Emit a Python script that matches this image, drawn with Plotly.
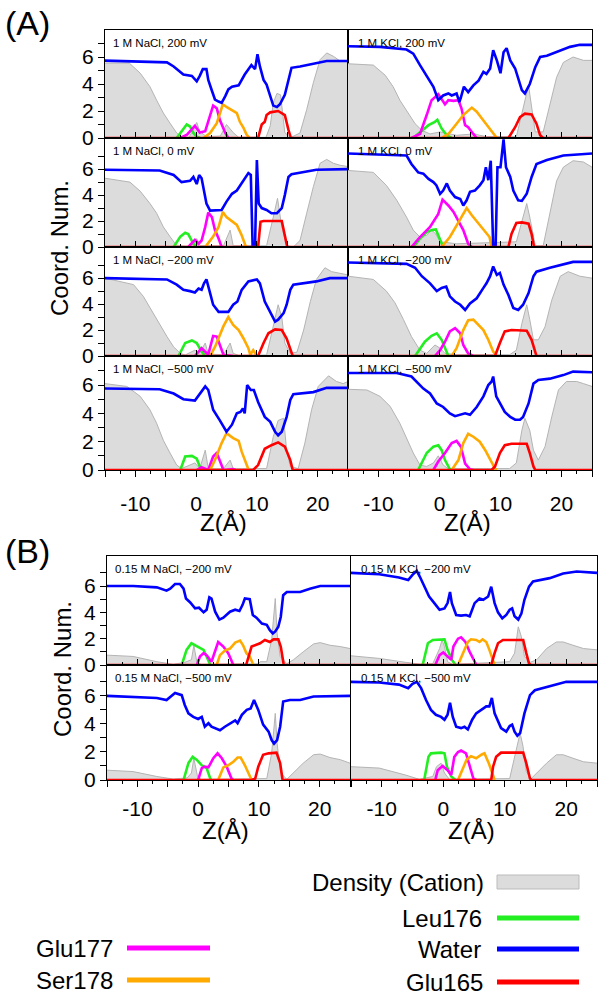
import plotly.graph_objects as go

# ---------------- data: (Z in Å, value) pairs ----------------
# Panel A, row 1 left: 1 M NaCl, 200 mV
A_NA200_D = [(-15,5.55),(-11,5.55),(-9.2,4.8),(-7.6,3.8),(-6.5,2.8),(-5.4,1.85),(-4.3,1.1),(-3.2,0.37),(-2.4,0.07),(-1.2,0.05),(-0.45,0.6),(0.1,1.15),(0.6,0.5),(1.7,0.1),(4.0,0.15),(5.0,1.0),(6.1,0.4),(7,0.05),(11.5,0.05),(12.2,0.9),(12.7,2.6),(13.3,3.3),(13.9,3.2),(14.6,0.4),(15.5,0.02),(17.1,0.37),(18.2,2.1),(19.3,4.1),(20.4,5.8),(21.5,6.3),(22.6,6.05),(23.7,5.7),(25,5.7)]
A_NA200_LEU = [(-3.2,0),(-2.4,0.5),(-1.55,1.0),(-1.0,0.85),(-0.45,0.37),(0.1,0.1),(0.6,0)]
A_NA200_GLU177 = [(-2.6,0),(-1.5,0.25),(-0.2,0.9),(0.6,0.4),(1.5,0.5),(2.3,1.6),(2.8,2.4),(3.4,2.2),(3.9,1.35),(4.8,0.37),(5.3,0)]
A_NA200_SER = [(1.2,0),(2.3,0.37),(3.4,1.1),(4.4,2.5),(5.0,2.3),(6.1,2.0),(6.7,1.85),(7.2,1.2),(7.8,0.75),(8.3,0.25),(8.8,0)]
A_NA200_W = [(-15,5.73),(-4.8,5.6),(-3.7,5.3),(-2.1,4.7),(-0.7,4.6),(-0.2,4.3),(0.1,4.2),(0.6,4.6),(1.1,5.1),(1.7,5.1),(2.0,4.3),(2.6,3.5),(3.1,2.85),(3.7,2.7),(4.2,2.6),(4.8,3.1),(5.3,3.6),(5.9,3.8),(7.0,3.9),(8.0,4.7),(9.1,5.4),(9.7,5.1),(10.1,6.2),(10.5,5.3),(11.1,4.3),(11.6,3.95),(12.2,3.1),(12.7,2.4),(13.3,2.3),(13.8,2.5),(14.6,3.2),(15.2,4.3),(15.7,5.2),(17.1,5.3),(19.8,5.55),(21.5,5.7),(25,5.7)]
A_NA200_GLU165 = [(-15,0),(10.2,0),(10.8,1.0),(11.3,1.2),(11.6,1.7),(12.2,1.9),(13.5,2.0),(14.6,1.7),(15.2,0.6),(15.6,0),(25,0)]

# Panel A, row 2 left: 1 M NaCl, 0 mV
A_NA0_D = [(-15,5.3),(-10.9,5.0),(-9.2,4.3),(-7.6,3.35),(-6.5,2.6),(-5.4,1.55),(-4.3,0.8),(-3.2,0.1),(-1.2,0.05),(-0.45,0.25),(0.1,0.65),(0.6,0.1),(4.5,0.1),(5.6,1.3),(6.1,0.1),(11.6,0.1),(12.7,2.3),(13.4,3.75),(14.1,1.55),(14.9,0.1),(16.0,0),(17.1,0.5),(18.2,2.6),(19.3,4.65),(20.4,6.45),(21.5,6.75),(22.6,6.45),(23.7,6.3),(25,6.2)]
A_NA0_LEU = [(-3.7,0),(-2.6,0.8),(-1.8,1.1),(-1.3,1.0),(-0.45,0.25),(0.1,0)]
A_NA0_GLU177 = [(-1.3,0),(-0.2,0.55),(0.4,0.25),(0.9,0.5),(1.5,1.55),(2.0,2.65),(2.6,2.3),(3.1,1.3),(3.7,0.65),(4.2,0)]
A_NA0_SER = [(1.5,0),(2.8,0.8),(3.7,1.55),(4.4,2.7),(5.0,2.3),(5.9,1.95),(6.7,1.7),(7.5,0.9),(8.2,0)]
A_NA0_W = [(-15,5.95),(-6,5.9),(-3.7,5.55),(-2.4,5.0),(-1.0,5.1),(-0.45,5.4),(0.1,4.85),(0.5,5.55),(0.9,5.3),(1.3,4.25),(1.7,3.35),(2.3,2.8),(3.4,2.85),(4.2,2.85),(5.0,3.5),(5.9,4.1),(6.7,4.35),(7.5,4.9),(8.6,5.7),(9.0,5.55),(9.3,0.05),(9.7,0.05),(10.0,6.7),(10.3,3.35),(10.8,3.0),(11.6,2.85),(12.4,2.6),(13.3,2.6),(14.1,3.0),(14.6,4.0),(15.2,5.4),(15.7,5.6),(19.8,5.95),(25,6.0)]
A_NA0_GLU165 = [(-15,0),(10.2,0),(10.6,1.95),(11.1,2.0),(14.1,2.0),(14.6,1.0),(15.0,0),(25,0)]

# Panel A, row 3 left: 1 M NaCl, -200 mV
A_NAM200_D = [(-15,6.0),(-10.3,5.5),(-8.7,4.6),(-7.6,3.7),(-6.5,2.9),(-4.8,1.5),(-3.7,0.7),(-2.6,0.2),(-1.8,0.08),(-0.2,0.45),(0.6,0.25),(1.5,1.0),(2.0,0.15),(4.5,0.1),(5.6,1.0),(6.1,0.2),(7,0.05),(11.6,0.08),(12.7,2.3),(13.5,3.95),(14.1,3.0),(14.6,1.0),(15.5,0.2),(16.6,0.3),(17.7,2.0),(18.8,4.2),(19.8,5.9),(21.2,6.8),(22.3,6.5),(23.7,6.4),(25,6.25)]
A_NAM200_LEU = [(-2.9,0),(-1.8,1.0),(-0.7,1.2),(0.1,1.0),(0.9,0.35),(1.5,0)]
A_NAM200_GLU177 = [(-0.2,0),(0.9,0.6),(2.0,0.1),(2.8,1.55),(3.4,1.5),(3.9,0.85),(4.5,0.1),(6.1,0)]
A_NAM200_SER = [(2.3,0),(3.1,0.7),(4.5,2.3),(5.3,3.0),(6.1,2.4),(7.0,2.0),(7.8,1.35),(8.6,0.6),(8.9,0.1),(9.4,0.45),(10.0,0)]
A_NAM200_W = [(-15,6.0),(-4.8,5.9),(-3.2,5.5),(-2.1,5.1),(-1.0,5.0),(-0.2,4.9),(0.4,5.2),(0.9,5.1),(1.3,5.6),(1.7,5.9),(2.3,4.85),(2.8,3.95),(3.7,3.4),(4.5,3.4),(5.3,3.4),(6.1,3.95),(6.8,4.2),(7.5,5.1),(8.6,5.75),(10.0,5.9),(10.5,5.6),(11.3,4.2),(12.2,3.4),(13.0,2.65),(13.5,2.8),(14.4,3.3),(14.9,3.95),(15.5,5.1),(16.0,5.5),(19.8,5.75),(22.0,6.0),(25,6.0)]
A_NAM200_GLU165 = [(-15,0),(10.2,0),(11.1,1.0),(11.9,1.75),(13.0,2.05),(14.1,2.0),(14.9,1.35),(15.5,0.45),(15.9,0),(25,0)]

# Panel A, row 4 left: 1 M NaCl, -500 mV
A_NAM500_D = [(-15,6.1),(-11.4,5.9),(-9.2,5.2),(-7.6,4.25),(-6.5,3.3),(-5.4,2.1),(-4.3,1.2),(-3.2,0.35),(-2.4,0.1),(-0.2,0.5),(0.6,0.1),(1.5,1.4),(2.0,0.1),(4.5,0.1),(5.6,0.7),(6.1,0.1),(11.6,0.1),(12.7,2.35),(13.5,3.5),(14.4,3.65),(14.9,1.4),(15.5,0.25),(16.8,0.1),(17.9,1.9),(19.0,4.25),(20.1,5.9),(21.8,6.65),(23.1,6.25),(24.2,6.1),(25,6.25)]
A_NAM500_LEU = [(-2.6,0),(-1.8,0.95),(-0.7,1.0),(0.1,0.8),(0.6,0.25),(1.2,0)]
A_NAM500_GLU177 = [(0.1,0),(0.9,0.2),(2.0,0),(2.8,0.95),(3.4,1.2),(4.2,0.35),(4.5,0),(6.1,0.07),(6.5,0)]
A_NAM500_SER = [(2.3,0),(3.1,0.7),(4.2,1.9),(5.0,2.6),(6.1,2.25),(7.0,2.05),(7.5,1.3),(8.0,0.7),(8.6,0.05),(8.8,0)]
A_NAM500_W = [(-15,5.75),(-6,5.7),(-3.7,5.4),(-2.1,5.0),(-0.2,4.9),(0.6,5.4),(1.5,5.9),(2.0,5.65),(2.8,4.25),(3.9,3.5),(5.0,2.7),(5.9,3.2),(6.7,4.0),(7.3,4.1),(7.7,4.35),(8.0,4.0),(8.4,6.0),(9.0,5.65),(9.5,5.65),(10.2,4.8),(11.3,3.75),(12.2,3.4),(13.0,2.7),(13.5,2.45),(14.1,2.7),(14.9,3.75),(15.5,4.95),(16.0,5.35),(19.3,5.5),(21.5,5.8),(25,5.8)]
A_NAM500_GLU165 = [(-15,0),(9.4,0),(10.2,0.35),(11.3,1.5),(12.4,1.75),(13.5,1.95),(14.6,1.65),(15.5,0.7),(15.9,0),(25,0)]

# Panel A, row 1 right: 1 M KCl, 200 mV
A_K200_D = [(-15,5.5),(-10.85,5.4),(-8.9,4.65),(-7.6,3.8),(-6.5,2.8),(-5.1,1.8),(-4.0,1.06),(-2.9,0.57),(-1.55,0.3),(0.1,0.45),(2.8,0.2),(5.55,0.3),(7.7,0.1),(12.6,0.1),(13.7,2.3),(14.6,3.9),(15.1,2.3),(15.7,0.45),(17.0,0.45),(18.1,2.55),(19.2,4.5),(20.3,5.6),(21.9,6.0),(23.6,5.75),(25,5.75)]
A_K200_LEU = [(-4.3,0),(-2.9,0.57),(-1.8,0.95),(-0.75,1.2),(-0.35,1.35),(0.35,0.7),(1.2,0.2),(2.0,0)]
A_K200_GLU177 = [(-4.6,0),(-3.2,0.3),(-2.1,1.7),(-1.3,2.8),(-0.2,3.25),(0.35,2.9),(0.9,2.5),(1.45,2.8),(2.3,2.75),(3.1,2.8),(3.6,2.2),(4.2,0.95),(4.7,0.8),(5.55,0.3),(6.1,0)]
A_K200_SER = [(0.35,0),(1.45,0.3),(2.8,1.06),(3.9,1.7),(5.3,2.25),(6.1,1.95),(7.2,1.3),(8.0,0.8),(8.8,0.3),(9.4,0)]
A_K200_W = [(-15,6.8),(-9.75,6.75),(-5.4,6.55),(-4.3,6.25),(-3.2,5.4),(-1.8,4.4),(-1.0,3.8),(-0.2,2.8),(0.6,3.15),(1.45,3.3),(2.0,3.15),(2.8,3.3),(3.25,2.65),(3.5,3.0),(4.0,3.8),(4.7,3.4),(5.55,3.9),(6.4,4.25),(7.2,4.9),(7.7,4.75),(8.3,5.15),(8.8,6.5),(9.4,5.75),(10.0,4.8),(10.5,6.35),(11.0,6.65),(11.6,5.75),(12.4,5.15),(12.9,4.4),(13.5,3.55),(14.0,3.3),(14.8,4.0),(15.7,5.25),(16.5,6.0),(17.6,6.1),(19.2,6.35),(21.4,6.75),(23.0,6.9),(25,6.9)]
A_K200_GLU165 = [(-15,0),(11.3,0),(12.4,0.8),(13.2,1.55),(14.0,1.8),(15.1,1.75),(15.9,1.06),(16.5,0.2),(17.0,0),(25,0)]

# Panel A, row 2 right: 1 M KCl, 0 mV
A_K0_D = [(-15,5.9),(-10.85,5.75),(-8.7,4.75),(-7.0,3.6),(-5.4,2.3),(-4.3,1.3),(-3.2,0.77),(-2.1,0.9),(-1.3,1.3),(-0.6,1.0),(0.1,0.4),(2.8,0.25),(12.6,0.4),(13.7,2.3),(14.3,3.35),(14.8,2.3),(15.7,0.1),(17.0,0.1),(18.1,2.55),(19.2,5.1),(20.3,6.15),(21.9,6.65),(23.6,6.55),(25,6.15)]
A_K0_LEU = [(-4.3,0),(-3.2,0.65),(-2.1,1.15),(-1.3,1.3),(-0.6,1.35),(0.1,0.5),(0.6,0)]
A_K0_GLU177 = [(-4.6,0),(-3.2,0.77),(-1.55,1.55),(-0.2,2.55),(0.5,3.65),(1.45,3.2),(2.3,2.7),(3.1,2.05),(3.9,1.3),(4.7,0.25),(5.3,0)]
A_K0_SER = [(0.35,0),(1.7,0.77),(3.1,1.9),(4.45,3.0),(5.3,2.45),(6.4,1.8),(7.4,1.3),(8.2,0.77),(8.55,0)]
A_K0_W = [(-15,7.2),(-5.4,7.05),(-4.6,6.4),(-3.5,5.75),(-2.65,5.65),(-1.8,5.25),(-1.0,5.0),(-0.5,4.75),(0.1,4.1),(0.6,4.35),(1.2,4.9),(1.7,4.35),(2.55,3.85),(3.4,3.7),(3.9,3.2),(4.45,3.6),(5.0,4.25),(5.8,4.35),(6.6,4.75),(7.2,5.15),(7.6,6.15),(8.0,5.15),(8.4,6.65),(8.8,0),(9.2,0),(9.5,6.15),(10.0,6.15),(10.5,8.3),(10.9,6.15),(11.6,5.4),(12.1,4.35),(12.9,3.6),(13.5,3.55),(14.3,4.1),(15.1,5.4),(15.9,6.4),(17.6,6.7),(20.3,7.05),(25,7.2)]
A_K0_GLU165 = [(-15,0),(11.3,0),(11.8,1.0),(12.6,1.85),(13.5,1.9),(14.6,1.8),(15.1,1.0),(15.5,0),(25,0)]

# Panel A, row 3 right: 1 M KCl, -200 mV
A_KM200_D = [(-15,6.15),(-10.85,5.9),(-8.7,5.0),(-7.3,4.1),(-5.9,2.8),(-4.6,1.5),(-3.2,0.45),(-2.1,0.2),(-0.75,0.85),(0.1,0.6),(0.9,0.2),(2.8,0.1),(11.5,0.1),(12.6,0.45),(13.5,2.5),(14.3,3.95),(14.8,2.8),(15.4,1.25),(16.2,1.25),(17.3,2.25),(18.4,4.3),(19.8,6.15),(21.1,6.5),(23.0,6.15),(25,6.0)]
A_KM200_LEU = [(-4.0,0),(-2.4,1.1),(-1.3,1.55),(-0.45,1.75),(0.35,1.25),(0.9,0.6),(1.45,0)]
A_KM200_GLU177 = [(-0.75,0),(0.1,0.45),(0.9,1.1),(1.7,1.9),(2.55,2.15),(3.4,1.75),(3.9,0.85),(4.7,0.2),(5.55,0)]
A_KM200_SER = [(2.0,0),(2.8,0.6),(3.9,2.0),(4.7,2.75),(5.55,2.8),(6.4,2.4),(7.2,2.0),(8.0,1.25),(8.8,0.35),(9.4,0)]
A_KM200_W = [(-15,7.2),(-5.4,7.1),(-4.0,6.8),(-2.9,6.15),(-1.55,5.6),(-0.45,5.0),(0.35,5.25),(1.1,5.35),(1.7,4.6),(2.55,4.2),(3.4,3.95),(4.2,3.55),(5.0,4.05),(6.1,4.45),(7.2,5.25),(7.7,5.6),(8.3,6.15),(8.8,6.9),(9.4,6.25),(9.9,6.4),(10.5,5.5),(11.3,4.7),(12.1,3.7),(12.9,3.55),(13.7,3.95),(14.6,4.85),(15.4,6.15),(15.9,6.5),(18.1,6.8),(20.3,7.05),(21.9,7.25),(25,7.25)]
A_KM200_GLU165 = [(-15,0),(9.1,0),(9.9,1.0),(10.7,1.9),(11.8,2.0),(14.3,1.95),(15.1,1.25),(15.7,0.2),(15.9,0),(25,0)]

# Panel A, row 4 right: 1 M KCl, -500 mV
A_KM500_D = [(-15,5.7),(-11.9,5.65),(-9.75,5.2),(-8.1,4.5),(-6.5,3.3),(-5.4,2.25),(-4.3,1.2),(-3.2,0.35),(-2.1,0.25),(-1.0,0.5),(-0.2,1.0),(0.6,0.35),(1.4,0.1),(11.5,0.1),(12.6,0.5),(13.5,2.8),(14.0,3.65),(14.8,2.8),(15.4,1.4),(16.2,0.7),(17.3,1.65),(18.4,3.75),(19.5,5.65),(20.8,6.25),(22.5,6.25),(23.6,6.1),(25,5.9)]
A_KM500_LEU = [(-3.5,0),(-2.1,1.2),(-1.0,1.65),(-0.2,1.75),(0.35,1.4),(0.9,0.7),(1.7,0.05),(2.0,0)]
A_KM500_GLU177 = [(-1.0,0),(-0.2,0.6),(0.9,1.2),(2.0,1.9),(2.8,2.05),(3.5,1.65),(4.2,0.45),(5.0,0.05),(5.55,0)]
A_KM500_SER = [(2.0,0),(3.1,0.7),(3.9,1.9),(4.7,2.55),(5.55,2.35),(6.6,2.0),(7.5,1.4),(8.3,0.7),(9.1,0.1),(9.4,0)]
A_KM500_W = [(-15,6.85),(-7.0,6.85),(-4.6,6.6),(-3.5,6.1),(-2.65,5.75),(-1.55,5.4),(-0.45,4.7),(0.6,4.45),(1.7,4.0),(2.55,3.8),(3.4,3.9),(4.2,4.0),(5.0,3.9),(6.1,4.45),(7.2,5.2),(8.0,6.0),(8.55,6.25),(8.8,6.6),(9.3,5.2),(9.9,4.7),(10.7,4.1),(11.6,3.75),(12.4,3.55),(13.2,3.55),(13.7,3.75),(14.6,4.7),(15.4,6.1),(16.2,6.35),(18.1,6.45),(20.3,6.7),(21.9,6.95),(25,6.9)]
A_KM500_GLU165 = [(-15,0),(8.55,0),(9.1,0.25),(9.9,1.2),(10.7,1.75),(11.8,1.85),(14.3,1.85),(14.8,1.2),(15.4,0.25),(15.7,0),(25,0)]

# Panel B, row 1 left: 0.15 M NaCl, -200 mV
B_NAM200_D = [(-15,0.75),(-10.7,0.65),(-6.8,0.25),(-4.1,0.05),(-2.2,0.2),(-1.1,0.4),(-0.7,1.5),(-0.2,0.2),(0.5,0.05),(10.0,0.1),(10.2,0.25),(11.3,0.25),(12.1,1.9),(12.7,5.05),(13.0,2.4),(13.5,0.65),(14.6,0.1),(15.7,0.4),(17.3,1.0),(19.0,1.6),(20.1,1.7),(21.7,1.5),(23.4,1.4),(25,1.25)]
B_NAM200_LEU = [(-2.7,0),(-1.9,1.15),(-1.1,1.65),(-0.2,1.4),(0.9,1.15),(1.4,0.65),(2.0,0)]
B_NAM200_GLU177 = [(-0.2,0),(0.3,0.65),(0.9,0.9),(1.4,0.75),(2.2,0.25),(2.8,1.15),(3.3,1.75),(4.15,1.4),(4.95,0.9),(5.8,0)]
B_NAM200_SER = [(3.05,0),(3.6,0.75),(4.4,1.1),(5.25,1.25),(6.1,1.7),(6.9,1.85),(7.4,1.5),(7.95,0.9),(8.5,0.65),(9.1,0)]
B_NAM200_W = [(-15,6.0),(-10.7,6.0),(-6.8,5.9),(-5.2,5.65),(-4.6,5.8),(-3.8,6.15),(-3.0,6.15),(-2.4,5.8),(-2.0,5.05),(-1.3,4.75),(-0.5,4.3),(0.15,4.35),(0.9,4.0),(1.4,4.2),(1.85,5.15),(2.2,5.05),(2.8,4.05),(3.5,3.45),(4.15,3.6),(5.25,4.05),(6.1,4.2),(6.8,4.1),(7.3,4.55),(7.7,5.05),(8.5,5.0),(9.0,3.8),(9.6,3.6),(10.5,3.15),(11.3,3.05),(11.8,2.65),(12.3,2.4),(12.7,2.55),(13.2,2.9),(13.6,3.65),(14.0,5.3),(14.6,5.55),(16.8,5.55),(18.4,5.8),(20.1,6.0),(25,6.0)]
B_NAM200_GLU165 = [(-15,0),(7.9,0),(8.8,1.4),(9.4,1.5),(10.2,1.65),(11.0,1.9),(11.8,1.75),(12.4,1.95),(13.2,1.95),(13.6,1.4),(14.1,0),(25,0)]

# Panel B, row 2 left: 0.15 M NaCl, -500 mV
B_NAM500_D = [(-15,0.7),(-10.7,0.6),(-6.8,0.25),(-4.1,0.07),(-1.8,0.15),(-1.1,0.5),(-0.7,1.55),(-0.1,0.25),(0.5,0.05),(11.3,0.1),(12.1,1.9),(12.7,4.75),(13.0,2.6),(13.6,0.5),(14.6,0.05),(15.7,0.5),(17.3,1.2),(19.0,1.8),(20.1,1.85),(21.7,1.6),(23.4,1.45),(25,1.2)]
B_NAM500_LEU = [(-2.4,0),(-1.6,1.2),(-0.9,1.65),(-0.25,1.45),(0.6,1.05),(1.4,0.85),(2.0,0.1),(2.1,0)]
B_NAM500_GLU177 = [(0.0,0),(0.6,0.85),(1.1,0.95),(1.7,0.9),(2.5,1.55),(3.2,1.9),(3.9,1.55),(4.7,0.95),(5.5,0.1),(5.8,0)]
B_NAM500_SER = [(3.3,0),(4.15,0.9),(4.95,1.05),(5.8,1.3),(6.5,1.6),(7.0,1.6),(7.7,1.05),(8.4,0.35),(8.8,0)]
B_NAM500_W = [(-15,6.0),(-6.8,5.85),(-5.2,5.7),(-3.8,6.2),(-2.7,6.05),(-2.2,5.35),(-1.6,4.75),(-0.8,4.5),(0.0,4.35),(0.6,4.5),(1.1,3.8),(1.7,4.05),(2.2,3.8),(2.9,3.7),(3.6,3.55),(4.4,3.8),(5.25,4.05),(6.1,4.25),(6.5,4.05),(7.2,4.65),(8.0,5.0),(8.65,5.1),(9.2,5.7),(9.9,5.0),(10.7,3.95),(11.6,3.45),(12.1,2.85),(12.5,2.6),(13.0,2.85),(13.5,3.8),(14.0,5.6),(15.1,5.7),(16.8,5.7),(19.0,5.95),(25,6.0)]
B_NAM500_GLU165 = [(-15,0),(8.8,0),(9.4,0.1),(9.9,0.95),(10.7,1.8),(11.6,1.9),(12.9,1.95),(13.5,1.2),(13.9,0),(25,0)]

# Panel B, row 1 right: 0.15 M KCl, -200 mV
B_KM200_D = [(-15,0.7),(-10.4,0.5),(-6.1,0.2),(-3.9,0.07),(-1.7,0.1),(-0.6,1.25),(-0.2,1.9),(0.2,1.4),(0.7,0.25),(1.5,0.05),(10.8,0.25),(11.6,0.9),(12.2,2.9),(12.7,2.15),(13.2,0.65),(14.1,0.2),(15.2,0.4),(16.8,1.25),(18.4,1.75),(19.5,1.75),(21.1,1.5),(22.8,1.25),(25,1.15)]
B_KM200_LEU = [(-3.35,0),(-2.5,1.65),(-1.7,1.9),(-0.6,1.95),(0.2,1.95),(0.7,1.15),(1.4,0.4),(2.0,0)]
B_KM200_GLU177 = [(-1.3,0),(-0.6,0.75),(0.0,0.95),(0.7,0.65),(1.3,0.4),(1.65,1.4),(2.4,2.0),(2.9,2.1),(3.6,1.75),(4.3,1.0),(5.1,0.25),(5.4,0)]
B_KM200_SER = [(2.4,0),(2.9,0.5),(3.45,1.15),(4.0,1.75),(4.5,1.95),(5.35,1.9),(5.9,1.75),(6.4,1.95),(7.0,1.75),(7.5,1.15),(8.0,0.4),(8.35,0)]
B_KM200_W = [(-15,7.0),(-10.4,6.9),(-7.2,6.65),(-5.7,6.45),(-5.0,6.85),(-4.3,7.15),(-3.8,6.7),(-3.1,5.95),(-2.3,5.2),(-1.45,4.7),(-0.6,4.2),(0.2,4.3),(0.7,4.7),(1.1,5.55),(1.4,4.7),(2.1,3.8),(2.9,3.75),(3.7,3.8),(4.3,3.7),(5.1,4.7),(5.9,5.05),(6.5,4.95),(7.3,5.2),(7.8,5.95),(8.35,4.7),(8.9,4.0),(9.6,3.55),(10.25,3.8),(10.8,4.2),(11.2,4.3),(11.6,3.7),(12.2,3.45),(12.7,3.9),(13.2,4.95),(13.95,5.95),(14.6,6.35),(15.7,6.45),(17.3,6.6),(19.5,6.95),(21.7,7.1),(25,7.0)]
B_KM200_GLU165 = [(-15,0),(7.8,0),(8.35,0.9),(8.9,1.65),(9.7,1.9),(13.0,1.9),(13.5,0.9),(13.95,0.1),(14.3,0),(25,0)]

# Panel B, row 2 right: 0.15 M KCl, -500 mV
B_KM500_D = [(-15,0.95),(-10.4,0.85),(-6.1,0.35),(-3.9,0.05),(-1.7,0.25),(-1.1,0.95),(-0.35,1.2),(0.2,0.5),(1.0,0.05),(10.8,0.1),(11.5,1.45),(12.2,2.85),(12.5,3.35),(12.97,2.4),(13.5,0.6),(14.3,0.1),(15.2,0.5),(16.8,1.2),(18.4,1.8),(19.5,1.8),(21.1,1.55),(22.8,1.3),(25,1.2)]
B_KM500_LEU = [(-3.1,0),(-2.4,1.65),(-2.0,1.9),(-0.35,1.95),(0.2,1.9),(0.6,0.95),(1.3,0.25),(2.0,0)]
B_KM500_GLU177 = [(-1.3,0),(-0.9,0.7),(-0.1,1.0),(0.7,0.7),(1.3,0.35),(1.8,1.65),(2.4,2.0),(2.9,2.1),(3.7,1.9),(4.3,0.95),(4.9,0.1),(5.35,0)]
B_KM500_SER = [(2.4,0),(3.1,0.7),(3.8,1.45),(4.5,1.7),(5.35,1.55),(6.2,1.8),(6.7,1.9),(7.4,1.2),(8.0,0.5),(8.35,0)]
B_KM500_W = [(-15,7.0),(-10.4,6.95),(-7.2,6.8),(-5.7,6.55),(-5.0,6.85),(-4.3,7.0),(-3.6,6.55),(-2.8,5.7),(-2.0,5.0),(-1.2,4.65),(-0.35,4.5),(0.2,4.3),(0.7,4.65),(1.1,5.5),(1.55,4.5),(2.1,3.8),(2.9,3.7),(3.45,3.8),(4.0,3.6),(4.7,4.3),(5.35,4.75),(6.2,5.0),(7.0,5.25),(7.5,5.25),(7.9,5.85),(8.35,4.75),(8.9,4.15),(9.4,3.7),(10.25,3.45),(10.8,3.85),(11.2,3.95),(11.6,3.45),(12.05,3.15),(12.5,3.35),(13.2,4.75),(14.1,6.05),(14.9,6.4),(16.2,6.55),(17.9,6.8),(20.0,7.0),(25,7.0)]
B_KM500_GLU165 = [(-15,0),(7.8,0),(8.1,0.95),(8.6,1.65),(9.4,1.95),(13.0,1.95),(13.5,1.2),(14.1,0.1),(14.4,0),(25,0)]

PANEL_LABELS = ["1 M NaCl, 200 mV", "1 M NaCl, 0 mV", "1 M NaCl, \u2212200 mV", "1 M NaCl, \u2212500 mV",
                "1 M KCl, 200 mV", "1 M KCl, 0 mV", "1 M KCl, \u2212200 mV", "1 M KCl, \u2212500 mV",
                "0.15 M NaCl, \u2212200 mV", "0.15 M NaCl, \u2212500 mV",
                "0.15 M KCl, \u2212200 mV", "0.15 M KCl, \u2212500 mV"]
X_TICKS = [-15, -10, -5, 0, 5, 10, 15, 20, 25]
X_TICKTEXT = ["", "-10", "", "0", "", "10", "", "20", ""]
Y_TICKS = [0, 2, 4, 6]
SERIES_NAMES = ["Density (Cation)", "Leu176", "Glu177", "Ser178", "Water", "Glu165"]

# ---------------- styling ----------------
W_PX, H_PX = 600, 996
FONT = "Liberation Sans, Arial, Helvetica, sans-serif"
COL = {"Density (Cation)": "#dcdcdc", "Leu176": "#22ee22", "Glu177": "#ff00ff",
       "Ser178": "#ffaa00", "Water": "#0000ff", "Glu165": "#ff0000"}

def fx(px):
    return px / W_PX

def fy(py):
    return 1 - py / H_PX

# geometry: (x0,x1) px, (top,bottom) px, y max, left?, bottom?, group
PANELS = [
    ((105, 348), (30, 138), 8.0, True, False, "A", (A_NA200_D, A_NA200_LEU, A_NA200_GLU177, A_NA200_SER, A_NA200_W, A_NA200_GLU165)),
    ((105, 348), (138, 247), 8.4, True, False, "A", (A_NA0_D, A_NA0_LEU, A_NA0_GLU177, A_NA0_SER, A_NA0_W, A_NA0_GLU165)),
    ((105, 348), (247, 356), 8.4, True, False, "A", (A_NAM200_D, A_NAM200_LEU, A_NAM200_GLU177, A_NAM200_SER, A_NAM200_W, A_NAM200_GLU165)),
    ((105, 348), (356, 470), 8.05, True, True, "A", (A_NAM500_D, A_NAM500_LEU, A_NAM500_GLU177, A_NAM500_SER, A_NAM500_W, A_NAM500_GLU165)),
    ((348, 592), (30, 138), 8.0, False, False, "A", (A_K200_D, A_K200_LEU, A_K200_GLU177, A_K200_SER, A_K200_W, A_K200_GLU165)),
    ((348, 592), (138, 247), 8.4, False, False, "A", (A_K0_D, A_K0_LEU, A_K0_GLU177, A_K0_SER, A_K0_W, A_K0_GLU165)),
    ((348, 592), (247, 356), 8.4, False, False, "A", (A_KM200_D, A_KM200_LEU, A_KM200_GLU177, A_KM200_SER, A_KM200_W, A_KM200_GLU165)),
    ((348, 592), (356, 470), 8.05, False, True, "A", (A_KM500_D, A_KM500_LEU, A_KM500_GLU177, A_KM500_SER, A_KM500_W, A_KM500_GLU165)),
    ((107, 350), (556, 665), 8.28, True, False, "B", (B_NAM200_D, B_NAM200_LEU, B_NAM200_GLU177, B_NAM200_SER, B_NAM200_W, B_NAM200_GLU165)),
    ((107, 350), (665, 780), 8.2, True, True, "B", (B_NAM500_D, B_NAM500_LEU, B_NAM500_GLU177, B_NAM500_SER, B_NAM500_W, B_NAM500_GLU165)),
    ((351, 597), (556, 665), 8.28, False, False, "B", (B_KM200_D, B_KM200_LEU, B_KM200_GLU177, B_KM200_SER, B_KM200_W, B_KM200_GLU165)),
    ((351, 597), (665, 780), 8.2, False, True, "B", (B_KM500_D, B_KM500_LEU, B_KM500_GLU177, B_KM500_SER, B_KM500_W, B_KM500_GLU165)),
]

fig = go.Figure()
layout = {}
annotations = []
shapes = []

for i, (xp, yp, ytop, is_left, is_bottom, grp, series) in enumerate(PANELS, start=1):
    sfx = "" if i == 1 else str(i)
    xa, ya = "x" + sfx, "y" + sfx
    for name, pts in zip(SERIES_NAMES, series):
        zs = [p[0] for p in pts]
        vs = [p[1] for p in pts]
        if name == "Density (Cation)":
            fig.add_trace(go.Scatter(x=zs, y=vs, xaxis=xa, yaxis=ya, mode="lines", name=name,
                                     fill="tozeroy", fillcolor=COL[name],
                                     line=dict(color="#b4b4b4", width=1), showlegend=False))
        else:
            fig.add_trace(go.Scatter(x=zs, y=vs, xaxis=xa, yaxis=ya, mode="lines", name=name,
                                     line=dict(color=COL[name], width=2.6), showlegend=False))
    layout["xaxis" + sfx] = dict(
        domain=[fx(xp[0]), fx(xp[1])], range=[-15, 25], anchor=ya,
        showline=True, linecolor="black", linewidth=1, mirror=True,
        showgrid=False, zeroline=False,
        tickmode="array", tickvals=X_TICKS, ticktext=X_TICKTEXT,
        ticks="outside" if is_bottom else "inside", ticklen=6, tickwidth=1, tickcolor="black",
        minor=dict(tickmode="array", tickvals=[-12.5, -7.5, -2.5, 2.5, 7.5, 12.5, 17.5, 22.5],
                   ticks="outside" if is_bottom else "inside", ticklen=3, tickwidth=1, tickcolor="black"),
        showticklabels=is_bottom, ticklabelstandoff=(9 if grp == "A" else 4),
        tickfont=dict(family=FONT, size=21, color="black"),
    )
    ydict = dict(
        domain=[fy(yp[1]), fy(yp[0])], range=[0, ytop], anchor=xa,
        showline=True, linecolor="black", linewidth=1, mirror=True,
        showgrid=False, zeroline=False,
    )
    if is_left:
        ydict.update(tickmode="array", tickvals=Y_TICKS, ticktext=[str(t) for t in Y_TICKS],
                     ticks="outside", ticklen=6, tickwidth=1, tickcolor="black",
                     minor=dict(tickmode="array", tickvals=[1, 3, 5, 7], ticks="outside",
                                ticklen=6, tickwidth=1, tickcolor="black"),
                     showticklabels=True, tickfont=dict(family=FONT, size=21, color="black"))
    else:
        ydict.update(ticks="", showticklabels=False)
    layout["yaxis" + sfx] = ydict
    annotations.append(dict(x=fx(xp[0] + (6 if is_left else 8)), y=fy(yp[0] + 13), xref="paper", yref="paper",
                            text=PANEL_LABELS[i - 1], showarrow=False, xanchor="left", yanchor="middle",
                            font=dict(family=FONT, size=11.5, color="black")))

# panel letters and axis titles
for txt, x, y in [("(A)", 3, 23), ("(B)", 3, 551)]:
    annotations.append(dict(x=fx(x), y=fy(y), xref="paper", yref="paper", text=txt, showarrow=False,
                            xanchor="left", yanchor="middle", font=dict(family=FONT, size=34, color="black")))
for x, y in [(59, 248), (62, 669)]:
    annotations.append(dict(x=fx(x), y=fy(y), xref="paper", yref="paper", text="Coord. Num.", showarrow=False,
                            textangle=-90, xanchor="center", yanchor="middle",
                            font=dict(family=FONT, size=24, color="black")))
for x, y in [(223, 522), (467, 522), (225, 830), (471, 830)]:
    annotations.append(dict(x=fx(x), y=fy(y), xref="paper", yref="paper", text="Z(Å)", showarrow=False,
                            xanchor="center", yanchor="middle", font=dict(family=FONT, size=24, color="black")))

# legend drawn as text + line samples
LEG = [("Density (Cation)", 486, 882, 497, 579), ("Leu176", 484, 918, 497, 579),
       ("Water", 483, 949, 497, 579), ("Glu165", 485, 982, 497, 579),
       ("Glu177", 115, 948, 127, 210), ("Ser178", 115, 980, 127, 210)]
for name, tx, ty, lx0, lx1 in LEG:
    annotations.append(dict(x=fx(tx), y=fy(ty), xref="paper", yref="paper", text=name, showarrow=False,
                            xanchor="right", yanchor="middle", font=dict(family=FONT, size=24, color="black")))
    if name == "Density (Cation)":
        shapes.append(dict(type="rect", xref="paper", yref="paper", x0=fx(lx0), x1=fx(lx1),
                           y0=fy(ty + 7), y1=fy(ty - 7), fillcolor=COL[name],
                           line=dict(color="#bbbbbb", width=1)))
    else:
        shapes.append(dict(type="line", xref="paper", yref="paper", x0=fx(lx0), x1=fx(lx1),
                           y0=fy(ty), y1=fy(ty), line=dict(color=COL[name], width=5)))

fig.update_layout(**layout)
fig.update_layout(width=W_PX, height=H_PX, autosize=False, margin=dict(l=0, r=0, t=0, b=0, autoexpand=False),
                  paper_bgcolor="white", plot_bgcolor="white", showlegend=False,
                  annotations=annotations, shapes=shapes, font=dict(family=FONT))
fig.write_html("out.html", config={"displayModeBar": False, "responsive": False},
               post_script="document.body.style.margin='0';document.body.style.overflow='hidden';")
